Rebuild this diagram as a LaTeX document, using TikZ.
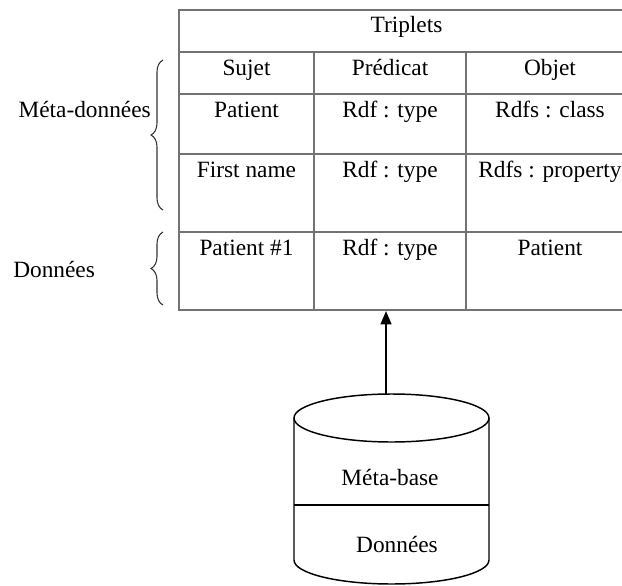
\documentclass[tikz,border=0pt]{standalone}
\usepackage{fontspec}
\setmainfont{Liberation Serif}
\usetikzlibrary{arrows.meta,decorations.pathreplacing}
\definecolor{rule}{gray}{0.45}
\begin{document}
\begin{tikzpicture}[x=0.75pt,y=-0.75pt,
  font=\fontsize{17.5}{21}\selectfont,
  grid/.style={draw=rule,line width=1.1pt},
  txt/.style={anchor=base,inner sep=0pt},
  bracepath/.style={draw=black!80,line width=0.8pt,
    decorate,decoration={brace,amplitude=9pt}},
  dbline/.style={draw=black,line width=1.1pt}]
\useasboundingbox (0,0) rectangle (622,586);
\begin{scope}
\clip (0,0) rectangle (622,586);
% table frame and rules
\draw[grid] (179,10) rectangle (634,310);
\draw[grid] (179,52) -- (634,52);
\draw[grid,line width=1.7pt] (179,94) -- (634,94);
\draw[grid] (179,154) -- (634,154);
\draw[grid] (179,232) -- (634,232);
\draw[grid] (314,52) -- (314,310);
\draw[grid] (466,52) -- (466,310);
\end{scope}
% table texts
\node[txt] (tri) at (406.5,32) {Triplets};
\node[txt] (hs) at (246.5,75) {Sujet};
\node[txt] (hp) at (390,75) {Prédicat};
\node[txt] (ho) at (550,75) {Objet};
\node[txt] (s1) at (246.5,117) {Patient};
\node[txt] (p1) at (390,117) {Rdf : type};
\node[txt] (o1) at (550,117) {Rdfs : class};
\node[txt] (s2) at (246.5,177) {First name};
\node[txt] (p2) at (390,177) {Rdf : type};
\node[txt] (o2) at (550,177) {Rdfs : property};
\node[txt] (s3) at (246.5,255) {Patient \#1};
\node[txt] (p3) at (390,255) {Rdf : type};
\node[txt] (o3) at (550,255) {Patient};
% braces and their labels
\draw[bracepath] (163,210) -- (163,60);
\draw[bracepath] (163,305) -- (163,232);
\node[txt,anchor=base east] (meta) at (151,117) {Méta-données};
\node[txt,anchor=base west] (data) at (13,277) {Données};
% database cylinder
\draw[dbline] (391.5,418) ellipse [x radius=97.5, y radius=24];
\draw[dbline] (294,418) -- (294,560) arc[start angle=180,end angle=0,x radius=97.5,y radius=24] -- (489,418);
\draw[dbline] (294,505) -- (489,505);
\node[txt] (mb) at (390,485) {Méta-base};
\node[txt] (dd) at (397,552) {Données};
% link from the database up to the table
\coordinate (dbtop) at (386,394);
\coordinate (tabbot) at (386,311);
\draw[line width=1.6pt,-{Triangle[width=8pt,length=10pt]}] (dbtop) -- (tabbot);
\end{tikzpicture}
\end{document}
